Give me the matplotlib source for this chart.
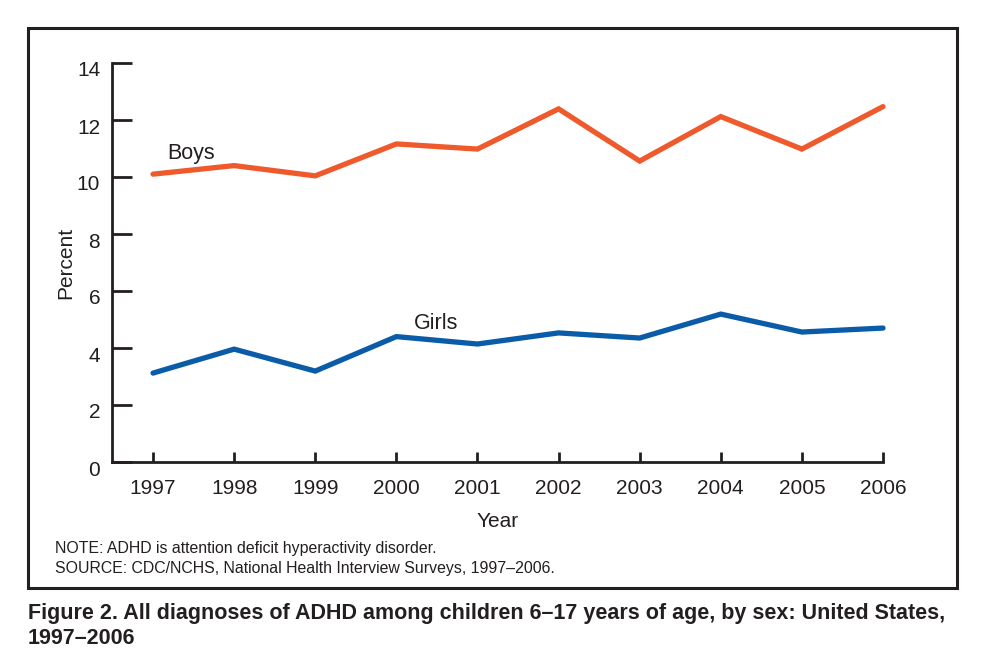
import matplotlib
matplotlib.use("Agg")
import matplotlib.pyplot as plt
import matplotlib.patches as mpatches
import matplotlib.transforms as mtransforms

years = [1997, 1998, 1999, 2000, 2001, 2002, 2003, 2004, 2005, 2006]
boys = [10.1, 10.4, 10.04, 11.16, 10.98, 12.39, 10.56, 12.12, 10.98, 12.47]
girls = [3.12, 3.96, 3.19, 4.40, 4.14, 4.53, 4.35, 5.19, 4.56, 4.70]
yticks = [0, 2, 4, 6, 8, 10, 12, 14]

TXT = "#231f20"
plt.rcParams['font.family'] = ['Liberation Sans', 'DejaVu Sans']

W, H = 990, 661
fig = plt.figure(figsize=(W / 100, H / 100), dpi=100)
fig.patch.set_facecolor("white")

def fx(px):
    return px / W

def fy(py):
    return 1 - py / H

# outer frame
rect = mpatches.Rectangle((fx(28), fy(588)), fx(957) - fx(28), fy(28) - fy(588),
                          transform=fig.transFigure, fill=False,
                          edgecolor=TXT, linewidth=2.2)
fig.patches.append(rect)

ax = fig.add_axes([fx(112), fy(462), fx(883) - fx(112), fy(63) - fy(462)])
ax.plot(years, boys, color="#ee5a2c", linewidth=3.8, solid_capstyle="round",
        solid_joinstyle="miter", clip_on=False)
ax.plot(years, girls, color="#0a5ca8", linewidth=3.8, solid_capstyle="round",
        solid_joinstyle="miter", clip_on=False)

ax.set_xlim(1997 - 0.506, 2006)
ax.set_ylim(0, 14)
ax.set_xticks(years)
ax.set_yticks(yticks)
ax.set_xticklabels([str(y) for y in years])
ax.set_yticklabels([str(v) for v in yticks])

for s in ["top", "right"]:
    ax.spines[s].set_visible(False)
for s in ["left", "bottom"]:
    ax.spines[s].set_linewidth(2.0)
    ax.spines[s].set_color(TXT)
    ax.spines[s].set_capstyle("projecting")

ax.tick_params(axis="y", direction="in", length=14.4, width=2.0, color=TXT,
               labelsize=15, labelcolor=TXT, pad=8.5)
ax.tick_params(axis="x", direction="in", length=7, width=2.0, color=TXT,
               labelsize=15, labelcolor=TXT, pad=12)

off = mtransforms.ScaledTranslation(0, -6 / 100, fig.dpi_scale_trans)
for lbl in ax.get_yticklabels():
    lbl.set_transform(lbl.get_transform() + off)

ax.set_xlabel("Year", fontsize=15, color=TXT, labelpad=10)
ax.set_ylabel("Percent", fontsize=15, color=TXT, labelpad=1)

ax.text(1997.18, 10.45, "Boys", fontsize=15.5, color=TXT, ha="left", va="bottom")
ax.text(2000.22, 4.5, "Girls", fontsize=15.5, color=TXT, ha="left", va="bottom")

fig.text(fx(55), fy(549), "NOTE: ADHD is attention deficit hyperactivity disorder.",
         fontsize=11.4, color=TXT, ha="left", va="center")
fig.text(fx(55), fy(569), "SOURCE: CDC/NCHS, National Health Interview Surveys, 1997\u20132006.",
         fontsize=11.4, color=TXT, ha="left", va="center")

fig.text(fx(28), fy(613), "Figure 2. All diagnoses of ADHD among children 6\u201317 years of age, by sex: United States,",
         fontsize=15.5, fontweight="bold", color=TXT, ha="left", va="center")
fig.text(fx(28), fy(639), "1997\u20132006",
         fontsize=15.5, fontweight="bold", color=TXT, ha="left", va="center")

fig.savefig("out.png", dpi=100)
